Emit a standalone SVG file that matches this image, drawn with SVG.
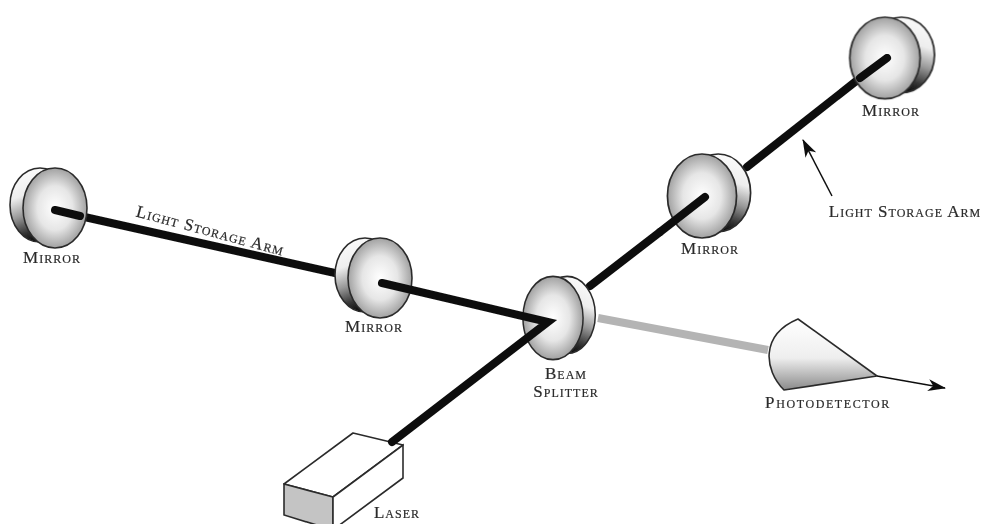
<svg xmlns="http://www.w3.org/2000/svg" width="984" height="524" viewBox="0 0 984 524">
<style>
.lbl{font-family:"Liberation Serif","Times New Roman",serif;font-variant:small-caps;font-size:17px;fill:#2a2a2a;letter-spacing:1px;text-anchor:middle;stroke:#2a2a2a;stroke-width:.2}
.beam{stroke:#111;stroke-width:8;stroke-linecap:round;fill:none}
.ol{stroke:#2c2c2c;stroke-width:1.6}
</style>
<defs>
<filter id="soft" filterUnits="userSpaceOnUse" x="0" y="0" width="984" height="524"><feGaussianBlur stdDeviation=".45"/></filter>
<radialGradient id="face" cx=".5" cy=".5" r=".55"><stop offset="0" stop-color="#fff"/><stop offset=".5" stop-color="#e6e6e6"/><stop offset="1" stop-color="#929292"/></radialGradient>
<linearGradient id="rim" x1="0" y1="0" x2=".3" y2="1"><stop offset="0" stop-color="#fff"/><stop offset=".4" stop-color="#eee"/><stop offset=".65" stop-color="#999"/><stop offset=".88" stop-color="#333"/><stop offset="1" stop-color="#111"/></linearGradient>
<linearGradient id="det" x1="0" y1="0" x2="0" y2="1"><stop offset="0" stop-color="#fff"/><stop offset=".55" stop-color="#eee"/><stop offset="1" stop-color="#8a8a8a"/></linearGradient>
<marker id="head" markerUnits="userSpaceOnUse" markerWidth="20" markerHeight="14" refX="17" refY="6" orient="auto"><path d="M0 0L18 6L0 12L5 6Z" fill="#111"/></marker>
<g id="m">
<ellipse cx="-15" cy="-3" rx="30" ry="37" fill="url(#rim)" class="ol"/>
<path d="M-14 -36C-28 -22 -30 14 -8 35" fill="none" stroke="#444" stroke-width="1.4"/>
<ellipse rx="32" ry="40" fill="url(#face)" class="ol"/>
</g>
</defs>
<rect width="984" height="524" fill="#fff"/>
<g filter="url(#soft)">
<g id="connectors-back">
<path class="beam" d="M80 216L335 273" stroke-linecap="butt"/>
<path class="beam" d="M590 286L660 232"/>
<path class="beam" d="M747 167L860 78"/>
<path d="M598 318L768 350" stroke="#b4b4b4" stroke-width="8" fill="none"/>
</g>
<g id="mirror-1"><use href="#m" transform="translate(55 208)"/><text class="lbl" x="52" y="263">Mirror</text></g>
<g id="mirror-2"><use href="#m" transform="translate(380 278)"/><text class="lbl" x="374" y="332">Mirror</text></g>
<g id="beam-splitter"><use href="#m" transform="translate(553 318) scale(-.94 1.04)"/><text class="lbl" x="566" y="379">Beam</text><text class="lbl" x="566" y="397">Splitter</text></g>
<g id="mirror-3"><use href="#m" transform="translate(702 196) scale(-1.08 1.05)"/><text class="lbl" x="710" y="254">Mirror</text></g>
<g id="mirror-4"><use href="#m" transform="translate(885 58) scale(-1.1 1.02)"/><text class="lbl" x="891" y="116">Mirror</text></g>
<g id="laser">
<path d="M284 484L353 433L403 445L333 497Z" fill="#fff" class="ol" stroke-linejoin="round"/>
<path d="M284 484L333 497L333 530L284 515Z" fill="#c4c4c4" class="ol"/>
<path d="M333 497L403 445L403 478L333 530Z" fill="#fff" class="ol"/>
<text class="lbl" x="397" y="518">Laser</text>
</g>
<g id="connectors">
<path class="beam" d="M55 210L80 216"/>
<path class="beam" d="M382 283L548 322L392 442"/>
<path class="beam" d="M660 232L705 197"/>
<path class="beam" d="M860 78L887 58"/>
<path d="M877 376L945 388" stroke="#111" stroke-width="1.5" fill="none" marker-end="url(#head)"/>
<path d="M832 196L803 140" stroke="#111" stroke-width="1.5" fill="none" marker-end="url(#head)"/>
</g>
<g id="photodetector">
<path d="M798 319L877 376L784 390C764 370 760 335 798 319Z" fill="url(#det)" class="ol" stroke-linejoin="round"/>
<text class="lbl" x="828" y="408" style="letter-spacing:1.6px">Photodetector</text>
</g>
<text id="arm-left" class="lbl" transform="translate(209 236) rotate(15)">Light Storage Arm</text>
<text id="arm-right" class="lbl" x="905" y="217">Light Storage Arm</text>
</g>
</svg>
